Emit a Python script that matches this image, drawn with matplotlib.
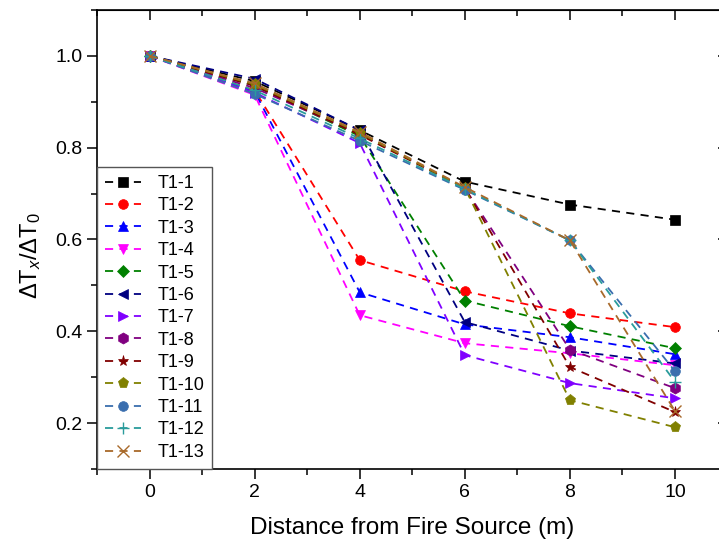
from matplotlib import pyplot as plt
from matplotlib.ticker import MultipleLocator

plt.rcParams['font.family'] = ['Liberation Sans', 'DejaVu Sans']
plt.rcParams['mathtext.fontset'] = 'custom'
plt.rcParams['mathtext.rm'] = 'Liberation Sans'
plt.rcParams['mathtext.it'] = 'Liberation Sans:italic'

distance = [0, 2, 4, 6, 8, 10]

t1_1 = [1.0, 0.945, 0.838, 0.726, 0.676, 0.643]
t1_2 = [1.0, 0.925, 0.555, 0.487, 0.439, 0.409]
t1_3 = [1.0, 0.922, 0.485, 0.415, 0.387, 0.350]
t1_4 = [1.0, 0.915, 0.435, 0.374, 0.352, 0.326]
t1_5 = [1.0, 0.935, 0.825, 0.467, 0.411, 0.363]
t1_6 = [1.0, 0.950, 0.838, 0.420, 0.358, 0.330]
t1_7 = [1.0, 0.920, 0.810, 0.348, 0.287, 0.254]
t1_8 = [1.0, 0.930, 0.830, 0.712, 0.360, 0.276]
t1_9 = [1.0, 0.935, 0.828, 0.712, 0.322, 0.224]
t1_10 = [1.0, 0.938, 0.832, 0.712, 0.250, 0.191]
t1_11 = [1.0, 0.917, 0.815, 0.708, 0.598, 0.313]
t1_12 = [1.0, 0.925, 0.820, 0.710, 0.598, 0.290]
t1_13 = [1.0, 0.940, 0.834, 0.714, 0.598, 0.226]

series = [t1_1, t1_2, t1_3, t1_4, t1_5, t1_6, t1_7, t1_8, t1_9, t1_10,
          t1_11, t1_12, t1_13]
labels = ["T1-%d" % (i + 1) for i in range(13)]
colors = ['#000000', '#FF0000', '#0000FF', '#FF00FF', '#008000', '#000080',
          '#8000FF', '#800080', '#800000', '#808000', '#3A6EAE', '#2A9C9C',
          '#A8692A']
markers = ['s', 'o', '^', 'v', 'D', '<', '>', 'h', '*', 'p', 'o', '+', 'x']

fig = plt.figure(figsize=(7.19, 5.48), dpi=100)
ax = fig.add_axes([0.1349, 0.1442, 0.877, 0.8376])

for vals, lab, c, m in zip(series, labels, colors, markers):
    size = 7
    if m == 'D':
        size = 6
    if m in ('*', 'p', 'h'):
        size = 8
    if m in ('+', 'x'):
        size = 9
    ax.plot(distance, vals, linestyle='--', dashes=(4.5, 3.5), color=c, linewidth=1.3,
            marker=m, markersize=size, markeredgewidth=1 if m in ('+', 'x') else 0.5,
            markeredgecolor=c, label=lab)

ax.set_xlim(-1, 11)
ax.set_ylim(0.1, 1.1)
ax.xaxis.set_major_locator(MultipleLocator(2))
ax.xaxis.set_minor_locator(MultipleLocator(1))
ax.yaxis.set_major_locator(MultipleLocator(0.2))
ax.yaxis.set_minor_locator(MultipleLocator(0.1))
ax.tick_params(which='both', direction='out', labelsize=14, width=1.1)
ax.tick_params(which='major', length=7)
ax.tick_params(which='minor', length=4)
for s in ax.spines.values():
    s.set_linewidth(1.2)

# inward ticks on top and right, no labels
top = ax.secondary_xaxis('top')
top.xaxis.set_major_locator(MultipleLocator(2))
top.xaxis.set_minor_locator(MultipleLocator(1))
top.tick_params(which='both', direction='in', labeltop=False, width=1.1)
top.tick_params(which='major', length=7)
top.tick_params(which='minor', length=4)
right = ax.secondary_yaxis('right')
right.yaxis.set_major_locator(MultipleLocator(0.2))
right.yaxis.set_minor_locator(MultipleLocator(0.1))
right.tick_params(which='both', direction='in', labelright=False, width=1.1)
right.tick_params(which='major', length=7)
right.tick_params(which='minor', length=4)

ax.set_xlabel("Distance from Fire Source (m)", fontsize=17.5, labelpad=12)
ax.set_ylabel(r"$\Delta$T$_x$/$\Delta$T$_0$", fontsize=17)
ax.yaxis.set_label_coords(-0.086, 0.465)

leg = ax.legend(loc='lower left', bbox_to_anchor=(0.0, 0.0), borderaxespad=0.0,
                fontsize=13, handlelength=2.0, handletextpad=0.9,
                labelspacing=0.3, fancybox=False, borderpad=0.45, framealpha=1)
leg.get_frame().set_edgecolor('#555555')
leg.get_frame().set_linewidth(1.0)

plt.savefig("out.png", dpi=100)
